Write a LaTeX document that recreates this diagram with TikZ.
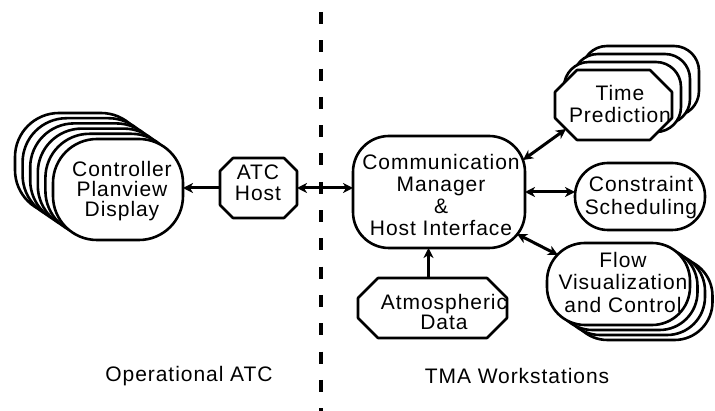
\documentclass[tikz,border=0pt]{standalone}
\usepackage{fontspec}
\setmainfont{Liberation Sans}[LetterSpace=4.5]
\usetikzlibrary{arrows.meta,calc}
\newcommand\chamfbox[2]{\path[bd] ([xshift=#2]#1.north west) -- ([xshift=-#2]#1.north east) -- ([yshift=-#2]#1.north east) -- ([yshift=#2]#1.south east) -- ([xshift=-#2]#1.south east) -- ([xshift=#2]#1.south west) -- ([yshift=#2]#1.south west) -- ([yshift=-#2]#1.north west) -- cycle;}
\begin{document}
\begin{tikzpicture}[x=1pt,y=-1pt,
  bd/.style={draw=black,fill=white,line width=2.6pt,line join=round},
  shp/.style 2 args={inner sep=0pt,outer sep=0pt,minimum width=#1pt,minimum height=#2pt},
  rbox/.style={bd,rounded corners=#1pt},
  txt/.style={inner sep=0pt,align=center,font=\fontsize{21}{#1}\selectfont},
  tipa/.tip={Stealth[length=10pt,width=10pt,inset=3pt]},
  arr/.style={line width=3pt,-tipa},
  darr/.style={line width=3pt,tipa-tipa},
  lbl/.style={inner sep=0pt,font=\fontsize{21}{21}\selectfont}
]
\useasboundingbox (0,0) rectangle (715,411);
\fill[white] (0,0) rectangle (715,411);
% divider
\coordinate (dtop) at (321,12);
\coordinate (dbot) at (321,411);
\draw[line width=3.5pt,dash pattern=on 12pt off 16.3pt] (dtop) -- (dbot);
% Controller stack
\foreach \k in {5,4,3,2,1} \node[rbox=44,shp={130}{101}] (ctrl\k) at ({118-7.6*\k},{189.5-5.2*\k}) {};
\node[rbox=44,shp={130}{101}] (ctrl) at (118,189.5) {};
% ATC Host
\node[shp={77}{60}] (atc) at (258.5,188) {};
\chamfbox{atc}{13}
% Communication manager
\node[rbox=36,shp={172}{112}] (comm) at (439,192) {};
% Time prediction stack
\foreach \k in {3,2,1} \node[rbox=25,shp={117}{70}] (tp\k) at ({613.5+9*\k},{105-8*\k}) {};
\node[shp={117}{70}] (tp) at (613.5,105) {};
\chamfbox{tp}{22}
% Constraint scheduling
\node[rbox=33,shp={130}{67}] (cons) at (640,196.5) {};
% Flow stack
\foreach \k in {3,2,1} \node[rbox=38,shp={143}{82}] (flow\k) at ({618.5+7.5*\k},{284+5*\k}) {};
\node[rbox=38,shp={143}{82}] (flow) at (618.5,284) {};
% Atmospheric data
\node[shp={149}{60}] (atm) at (432.5,308) {};
\chamfbox{atm}{20}
% texts
\node[txt=20] (ctrlT) at (122,191) {Controller\\Planview\\Display};
\node[txt=21.5] (atcT) at (258,183) {ATC\\Host};
\node[txt=22.3] (commT) at (441,195) {Communication\\Manager\\\&\\Host Interface};
\node[txt=22] (tpT) at (620,103.5) {Time\\Prediction};
\node[txt=23] (consT) at (641,198) {Constraint\\Scheduling};
\node[txt=22.5] (flowT) at (623,282) {Flow\\Visualization\\and Control};
\node[txt=20.5] (atmT) at (444,312) {Atmospheric\\Data};
\node[lbl] (opl) at (189,376) {Operational ATC};
\node[lbl] (tmal) at (517,376) {TMA Workstations};
% connectors
\draw[arr] (atc.west) -- (atc.west -| ctrl.east);
\draw[darr] (atc.east) -- (atc.east -| comm.west);
\draw[darr] (comm.east) -- (comm.east -| cons.west);
\draw[darr] ($(comm.east)+(-2,-32)$) -- ($(tp.south west)+(11,-11)$);
\draw[darr] ($(comm.south east)+(-8,-14)$) -- ($(flow.north west)+(11,12)$);
\draw[arr] ([xshift=-4pt]atm.north) -- ([xshift=-4pt]atm.north |- comm.south);
\end{tikzpicture}
\end{document}
